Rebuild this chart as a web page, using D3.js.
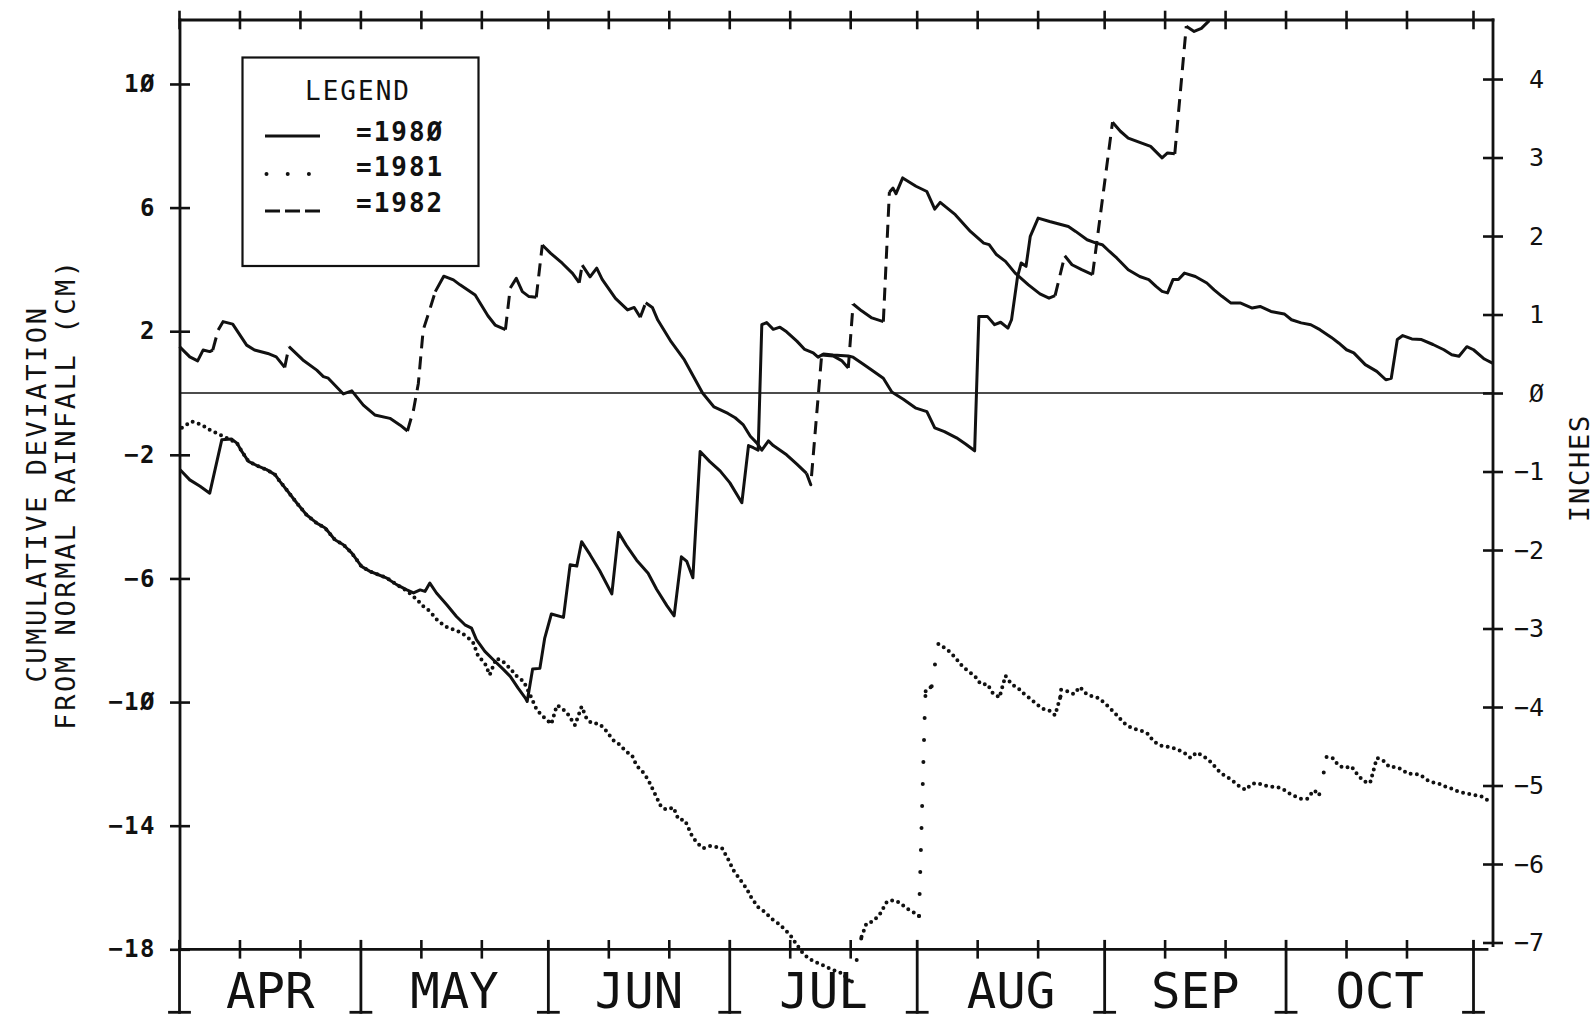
<!DOCTYPE html>
<html><head><meta charset="utf-8">
<script src="https://cdn.jsdelivr.net/npm/d3@7"></script>
<style>html,body{margin:0;padding:0;background:#fff}</style>
</head><body>
<svg id="c" width="1596" height="1023"></svg>
<script>
// ---------- data ----------
const months = ["APR","MAY","JUN","JUL","AUG","SEP","OCT"];
const monthStartDays = [0,30,61,91,122,153,183,214];          // days since Apr 1
const topTickDays = [0,10,20,30,40,50,61,71,81,91,101,111,122,132,142,153,163,173,183,193,203,214];
const minorBottomDays = [10,20,40,50,71,81,101,111,132,142,163,173,193,203];
const cmTicks = [-18,-14,-10,-6,-2,2,6,10];
const cmTickLabels = ["\u221218","\u221214","\u22121\u00D8","\u22126","\u22122","2","6","1\u00D8"];
const inchTicks = [-7,-6,-5,-4,-3,-2,-1,0,1,2,3,4];
const inchTickLabels = ["\u22127","\u22126","\u22125","\u22124","\u22123","\u22122","\u22121","\u00D8","1","2","3","4"];
const leftTitle = ["CUMULATIVE DEVIATION","FROM NORMAL RAINFALL (CM)"];
const rightTitle = "INCHES";
const legendTitle = "LEGEND";
const legendLabels = ["=198\u00D8","=1981","=1982"];

const days1980 = [0.1,1.7,3.4,5.0,7.0,8.6,9.5,10.3,11.4,12.8,14.4,15.8,16.6,17.7,19.4,21.0,22.7,24.1,25.7,27.1,28.5,30.1,31.5,32.9,34.3,35.9,37.6,38.7,39.8,40.6,41.4,42.5,44.2,45.8,47.2,48.3,49.1,50.5,51.9,53.6,54.7,56.0,57.2,57.5,58.4,59.6,60.4,61.5,63.5,64.6,65.7,66.5,67.9,69.5,71.5,72.6,73.9,75.6,77.5,78.9,80.6,81.8,83.0,83.9,84.9,86.1,87.7,89.4,91.0,93.0,94.1,94.9,95.7,96.3,97.1,98.2,99.3,100.4,102.1,103.4,104.8,105.6,106.5,108.1,110.6,111.4,113.1,114.7,116.4,117.8,119.7,121.8,123.6,124.9,126.5,128.5,130.0,131.5,132.2,133.6,134.8,135.8,137.0,137.6,138.6,139.2,140.0,140.7,142.0,143.9,147.0,148.2,150.1,151.6,152.6,153.8,155.0,156.9,158.8,160.3,161.5,162.5,163.4,164.3,165.2,166.2,168.0,169.9,171.1,172.4,173.9,175.5,177.4,178.7,180.5,182.7,183.9,185.5,187.1,188.6,190.5,191.7,193.0,194.2,196.1,198.0,199.5,200.4,201.4,202.3,203.8,205.4,207.3,209.1,210.4,211.6,212.9,214.0,215.8,217.3];
const cm1980 = [-2.48,-2.81,-3.02,-3.24,-1.51,-1.49,-1.62,-1.89,-2.21,-2.35,-2.48,-2.64,-2.86,-3.13,-3.56,-3.94,-4.21,-4.37,-4.75,-4.91,-5.18,-5.61,-5.77,-5.88,-5.99,-6.20,-6.37,-6.47,-6.37,-6.42,-6.15,-6.47,-6.85,-7.23,-7.50,-7.61,-7.98,-8.36,-8.63,-8.95,-9.17,-9.55,-9.87,-9.98,-8.93,-8.91,-7.93,-7.15,-7.26,-5.56,-5.60,-4.81,-5.23,-5.75,-6.50,-4.51,-4.93,-5.41,-5.83,-6.35,-6.88,-7.21,-5.30,-5.45,-5.98,-1.89,-2.22,-2.52,-2.90,-3.55,-1.70,-1.77,-1.85,2.21,2.28,2.06,2.13,1.98,1.68,1.41,1.30,1.16,1.26,1.23,1.20,1.16,0.93,0.71,0.48,0.03,-0.20,-0.49,-0.60,-1.13,-1.25,-1.45,-1.65,-1.87,2.48,2.48,2.21,2.29,2.10,2.37,3.77,4.21,4.10,5.07,5.66,5.55,5.39,5.23,4.96,4.85,4.80,4.58,4.37,3.99,3.77,3.67,3.45,3.29,3.24,3.67,3.67,3.88,3.77,3.56,3.34,3.13,2.91,2.91,2.75,2.80,2.64,2.56,2.37,2.27,2.21,2.05,1.80,1.62,1.40,1.30,0.92,0.70,0.43,0.48,1.73,1.86,1.75,1.73,1.57,1.40,1.24,1.19,1.50,1.40,1.10,0.95];

const days1981 = [0.4,2.0,3.7,5.0,6.7,8.6,9.5,10.3,11.4,12.8,14.4,15.8,16.6,17.7,19.4,21.0,22.7,24.1,25.7,27.1,28.5,30.1,31.5,32.9,34.3,35.9,37.6,39.3,40.3,41.4,42.5,43.6,44.5,45.6,46.7,47.8,48.6,49.4,50.5,51.3,52.4,53.5,54.6,55.8,56.9,57.9,59.1,60.2,61.5,62.4,63.2,64.3,65.4,66.5,67.3,68.1,69.5,70.6,71.7,72.8,73.9,74.8,75.6,76.7,77.5,78.6,79.7,80.6,81.7,82.5,83.6,84.7,85.5,86.6,87.7,88.8,89.7,90.8,91.6,92.7,93.8,94.6,95.7,96.8,97.9,99.0,99.9,101.0,101.8,103.0,104.0,105.0,106.2,107.5,108.8,109.9,110.4,111.2,112.0,112.8,113.6,114.7,115.8,117.0,118.0,119.1,120.2,121.3,122.3,123.3,123.4,124.4,124.9,125.5,126.4,127.5,128.5,129.5,130.5,131.5,132.5,133.6,134.5,135.6,136.6,137.6,138.7,139.7,140.7,141.7,142.8,143.8,144.8,145.7,145.8,146.9,147.9,148.9,150.0,151.0,152.0,153.1,154.0,155.1,156.1,157.0,158.0,159.1,160.0,161.1,162.1,163.1,164.1,165.1,166.2,167.2,168.2,169.2,170.3,171.2,172.2,173.2,174.3,175.3,176.3,177.3,178.3,179.4,180.4,181.4,182.4,183.4,184.5,185.5,186.5,187.6,188.5,189.2,189.7,190.7,191.7,192.8,193.8,194.9,195.9,196.9,197.8,198.1,199.1,200.1,201.1,202.1,203.1,204.2,205.2,206.2,207.3,208.3,209.3,210.4,211.4,212.4,213.5,214.5,215.6,216.5];
const cm1981 = [-1.12,-0.92,-1.03,-1.19,-1.35,-1.53,-1.62,-1.89,-2.21,-2.35,-2.48,-2.64,-2.86,-3.13,-3.56,-3.94,-4.21,-4.37,-4.75,-4.91,-5.18,-5.61,-5.77,-5.88,-5.99,-6.20,-6.40,-6.69,-6.90,-7.06,-7.32,-7.50,-7.61,-7.66,-7.77,-7.93,-8.09,-8.52,-8.74,-9.12,-8.58,-8.69,-8.90,-9.17,-9.33,-9.73,-10.26,-10.48,-10.71,-10.11,-10.18,-10.41,-10.75,-10.15,-10.52,-10.68,-10.71,-10.94,-11.23,-11.38,-11.61,-11.71,-12.06,-12.28,-12.51,-12.96,-13.41,-13.48,-13.41,-13.79,-13.83,-14.31,-14.54,-14.73,-14.66,-14.69,-14.72,-15.11,-15.44,-15.74,-16.04,-16.34,-16.64,-16.79,-17.01,-17.16,-17.32,-17.54,-17.77,-18.10,-18.29,-18.40,-18.50,-18.62,-18.72,-18.80,-18.99,-19.04,-18.34,-17.59,-17.17,-17.09,-16.87,-16.46,-16.41,-16.49,-16.67,-16.79,-16.92,-10.03,-9.65,-9.49,-8.83,-8.12,-8.23,-8.39,-8.61,-8.85,-9.01,-9.15,-9.42,-9.42,-9.71,-9.85,-9.15,-9.42,-9.55,-9.74,-9.89,-10.06,-10.22,-10.27,-10.43,-9.82,-9.60,-9.65,-9.74,-9.51,-9.74,-9.82,-9.87,-10.05,-10.22,-10.44,-10.66,-10.79,-10.87,-10.93,-11.00,-11.27,-11.40,-11.44,-11.47,-11.54,-11.65,-11.81,-11.63,-11.73,-11.89,-12.08,-12.30,-12.41,-12.57,-12.73,-12.84,-12.65,-12.62,-12.70,-12.73,-12.75,-12.80,-12.94,-13.05,-13.13,-13.13,-12.86,-12.98,-12.32,-11.78,-11.81,-12.06,-12.13,-12.08,-12.37,-12.57,-12.62,-11.97,-11.81,-11.90,-12.10,-12.10,-12.17,-12.32,-12.32,-12.35,-12.51,-12.60,-12.64,-12.73,-12.80,-12.89,-12.94,-12.98,-13.02,-13.07,-13.20];

const days1982 = [0.0,1.7,3.0,3.9,5.0,5.5,6.4,7.2,8.8,11.1,12.4,14.6,16.0,17.4,18.1,20.4,22.7,23.8,24.6,27.1,28.5,30.4,32.3,34.8,36.5,37.7,38.7,39.5,40.3,41.2,42.3,43.7,45.3,46.4,48.9,51.0,52.2,53.9,54.7,55.7,56.7,57.8,59.0,60.0,61.4,63.3,65.0,66.1,66.6,67.9,69.0,69.9,72.1,74.1,75.2,76.2,77.1,78.2,79.1,81.3,83.5,86.5,88.4,90.7,91.9,93.2,94.4,95.5,96.3,97.4,98.2,100.4,102.1,103.7,104.4,106.2,108.1,109.5,110.6,111.4,112.8,114.5,116.4,117.4,118.0,118.5,119.6,121.8,123.6,124.4,124.9,125.8,128.3,130.8,133.0,133.9,135.1,136.6,138.2,140.4,142.3,143.8,144.8,146.4,147.6,149.2,151.0,154.3,155.6,156.9,158.8,160.6,162.5,163.4,164.6,166.5,167.8,169.0,170.3];
const cm1982 = [1.50,1.17,1.04,1.39,1.34,1.39,2.04,2.31,2.23,1.55,1.39,1.28,1.17,0.83,1.50,1.07,0.74,0.53,0.48,-0.03,0.07,-0.39,-0.71,-0.82,-1.04,-1.23,-0.55,0.31,2.04,2.58,3.28,3.78,3.66,3.50,3.17,2.50,2.20,2.05,3.40,3.71,3.28,3.12,3.10,4.79,4.52,4.20,3.87,3.57,4.14,3.76,4.04,3.68,3.06,2.69,2.77,2.45,2.92,2.77,2.36,1.66,1.07,0.00,-0.45,-0.66,-0.80,-1.02,-1.40,-1.62,-1.85,-1.55,-1.70,-2.00,-2.30,-2.60,-2.97,1.23,1.20,1.05,0.81,2.88,2.66,2.43,2.31,6.50,6.63,6.45,6.96,6.69,6.52,6.17,5.95,6.17,5.77,5.23,4.85,4.80,4.48,4.26,3.88,3.50,3.21,3.07,3.15,4.44,4.15,3.99,3.83,8.76,8.47,8.25,8.11,7.98,7.61,7.77,7.74,11.87,11.70,11.80,12.05];

// ---------- layout ----------
const FONT = "'DejaVu Sans Mono', 'Liberation Mono', monospace";
const INK = "#111";
const svg = d3.select("#c");
svg.append("rect").attr("width",1596).attr("height",1023).attr("fill","#fff");

const x = d3.scaleLinear().domain([0, 214]).range([179.5, 1473.5]);
const y = d3.scaleLinear().domain([-18, 12.07]).range([949.3, 20]);
const yIn = d3.scaleLinear().domain(y.domain().map(v => v / 2.54)).range(y.range());
const xLeft = 180, xRight = 1493, yTop = y(12.07), yBot = y(-18);

const g = svg.append("g").attr("stroke", INK).attr("fill", "none").attr("stroke-linecap","square");
// frame
g.append("line").attr("x1", xLeft).attr("x2", xRight).attr("y1", yTop).attr("y2", yTop).attr("stroke-width", 2.8);
g.append("line").attr("x1", xLeft).attr("x2", xLeft).attr("y1", yTop).attr("y2", yBot).attr("stroke-width", 2.8);
g.append("line").attr("x1", xRight).attr("x2", xRight).attr("y1", yTop).attr("y2", yIn(-7) + 3).attr("stroke-width", 2.8);
g.append("line").attr("x1", xLeft).attr("x2", xRight - 6).attr("y1", yBot).attr("y2", yBot).attr("stroke-width", 2.8);
// zero line
g.append("line").attr("x1", xLeft).attr("x2", xRight).attr("y1", y(0)).attr("y2", y(0)).attr("stroke-width", 1.7);

// top ticks
g.selectAll(".tt").data(topTickDays).join("line")
  .attr("x1", d => x(d)).attr("x2", d => x(d)).attr("y1", yTop - 8).attr("y2", yTop + 8).attr("stroke-width", 2.6);
// bottom minor ticks
g.selectAll(".bt").data(minorBottomDays).join("line")
  .attr("x1", d => x(d)).attr("x2", d => x(d)).attr("y1", yBot - 8).attr("y2", yBot + 8).attr("stroke-width", 2.6);
// bottom month dividers (I shape)
const md = g.selectAll(".md").data(monthStartDays).join("g");
md.append("line").attr("x1", d => x(d)).attr("x2", d => x(d)).attr("y1", yBot - 8).attr("y2", yBot + 63).attr("stroke-width", 2.8);
md.append("line").attr("x1", d => x(d) - 10).attr("x2", d => x(d) + 10).attr("y1", yBot + 63).attr("y2", yBot + 63).attr("stroke-width", 2.8);

// month labels
svg.selectAll(".ml").data(months).join("text")
  .attr("x", (d, i) => x((monthStartDays[i] + monthStartDays[i + 1]) / 2))
  .attr("y", 1008)
  .attr("text-anchor", "middle").attr("font-family", FONT).attr("font-size", 49)
  .attr("fill", INK).text(d => d);

// left axis
const gL = svg.append("g").attr("transform", `translate(${xLeft},0)`)
  .call(d3.axisLeft(y).tickValues(cmTicks).tickFormat((d, i) => cmTickLabels[i]).tickSize(10).tickPadding(14));
gL.select(".domain").remove();
gL.selectAll(".tick line").attr("x1", 10).attr("x2", -10).attr("stroke", INK).attr("stroke-width", 2.6);
gL.selectAll(".tick text").attr("font-family", FONT).attr("font-size", 24).attr("font-weight", "bold")
  .attr("fill", INK).attr("letter-spacing", 1.5);

// right axis (inches)
const gR = svg.append("g").attr("transform", `translate(${xRight},0)`)
  .call(d3.axisRight(yIn).tickValues(inchTicks).tickFormat((d, i) => inchTickLabels[i]).tickSize(10).tickPadding(12));
gR.select(".domain").remove();
gR.selectAll(".tick line").attr("x1", -10).attr("x2", 10).attr("stroke", INK).attr("stroke-width", 2.6);
gR.selectAll(".tick text").attr("font-family", FONT).attr("font-size", 25).attr("fill", INK)
  .attr("text-anchor", "end").attr("x", 51);

// titles
svg.selectAll(".lt").data(leftTitle).join("text")
  .attr("transform", (d, i) => `translate(${[36, 65][i]},494) rotate(-90)`)
  .attr("text-anchor", "middle").attr("dominant-baseline", "central")
  .attr("font-family", FONT).attr("font-size", 27).attr("letter-spacing", 2.6).attr("fill", INK).text(d => d);
svg.append("text").attr("transform", "translate(1579,468) rotate(-90)")
  .attr("text-anchor", "middle").attr("dominant-baseline", "central")
  .attr("font-family", FONT).attr("font-size", 27).attr("letter-spacing", 1.8).attr("fill", INK).text(rightTitle);

// ---------- series ----------
function runs(days, vals, thr) {
  const pts = days.map((d, i) => [x(d), y(vals[i])]);
  const out = []; let cur = null;
  for (let i = 0; i < pts.length - 1; i++) {
    const a = pts[i], b = pts[i + 1];
    const steep = Math.abs(b[1] - a[1]) > thr * Math.abs(b[0] - a[0]);
    if (!cur || cur.steep !== steep) { cur = { steep, pts: [a] }; out.push(cur); }
    cur.pts.push(b);
  }
  return out;
}
const line = d3.line();

// 1980 solid
svg.append("path").attr("d", line(days1980.map((d, i) => [x(d), y(cm1980[i])])))
  .attr("fill", "none").attr("stroke", INK).attr("stroke-width", 3.0).attr("stroke-linejoin", "round");

// 1981 dotted
svg.selectAll(".s81").data(runs(days1981, cm1981, 4)).join("path")
  .attr("d", r => line(r.pts)).attr("fill", "none").attr("stroke", INK)
  .attr("stroke-width", 4.0).attr("stroke-linecap", "round")
  .attr("stroke-dasharray", r => r.steep ? "0 22" : "0 6.3");

// 1982 dashed (dash pattern visible on long steep strokes)
svg.selectAll(".s82").data(runs(days1982, cm1982, 2.5)).join("path")
  .attr("d", r => line(r.pts)).attr("fill", "none").attr("stroke", INK)
  .attr("stroke-width", 3.0).attr("stroke-linejoin", "round")
  .attr("stroke-dasharray", r => r.steep ? "13 8" : null);

// ---------- legend ----------
const lg = svg.append("g");
lg.append("rect").attr("x", 242.5).attr("y", 57.5).attr("width", 236).attr("height", 208.5)
  .attr("fill", "#fff").attr("stroke", INK).attr("stroke-width", 2.2);
lg.append("text").attr("x", 358).attr("y", 100).attr("text-anchor", "middle")
  .attr("font-family", FONT).attr("font-size", 26).attr("letter-spacing", 2).attr("fill", INK).text(legendTitle);
const legY = [136, 174, 211];
const legTextY = [141, 176, 212];
lg.selectAll(".lt").data(legendLabels).join("text")
  .attr("x", 356).attr("y", (d, i) => legTextY[i])
  .attr("font-family", FONT).attr("font-size", 26).attr("font-weight", "bold").attr("letter-spacing", 2)
  .attr("fill", INK).text(d => d);
lg.append("line").attr("x1", 265).attr("x2", 320).attr("y1", legY[0]).attr("y2", legY[0]).attr("stroke", INK).attr("stroke-width", 2.8);
lg.append("line").attr("x1", 266.5).attr("x2", 312).attr("y1", legY[1]).attr("y2", legY[1]).attr("stroke", INK)
  .attr("stroke-width", 4.0).attr("stroke-linecap", "round").attr("stroke-dasharray", "0 21.2");
lg.append("line").attr("x1", 265).attr("x2", 320).attr("y1", legY[2]).attr("y2", legY[2]).attr("stroke", INK)
  .attr("stroke-width", 2.8).attr("stroke-dasharray", "15 5");
</script>
</body></html>
